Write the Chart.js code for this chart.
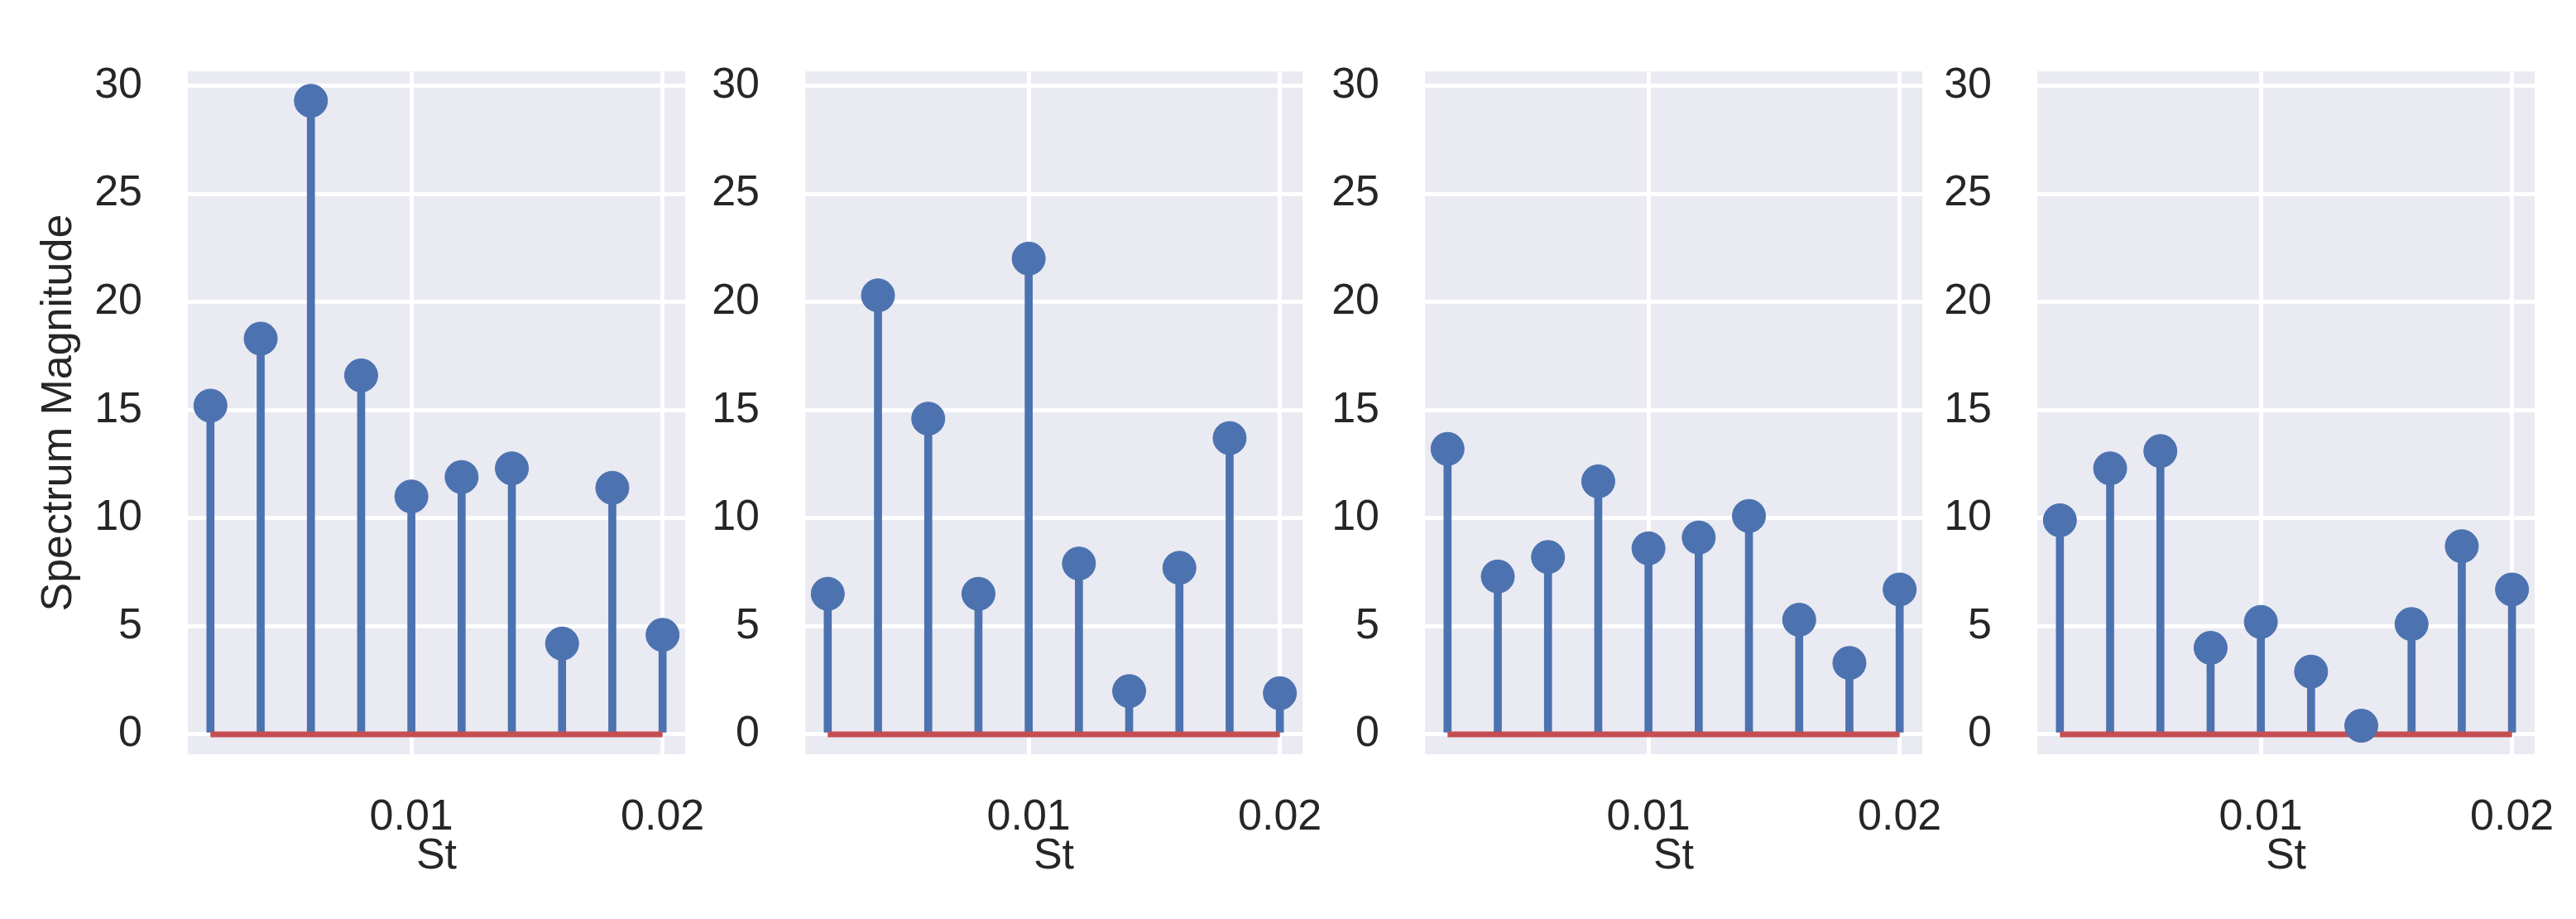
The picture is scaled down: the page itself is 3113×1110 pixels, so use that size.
<!DOCTYPE html>
<html>
<head>
<meta charset="utf-8">
<script src="https://cdn.jsdelivr.net/npm/chart.js@4/dist/chart.umd.min.js"></script>
<style>
  body { margin: 0; background: #fff; width: 3113px; height: 1110px; position: relative; overflow: hidden; }
  .panel { position: absolute; top: 0; height: 1110px; }
</style>
</head>
<body>
<div class="panel" id="p0"><canvas id="c0"></canvas></div>
<div class="panel" id="p1"><canvas id="c1"></canvas></div>
<div class="panel" id="p2"><canvas id="c2"></canvas></div>
<div class="panel" id="p3"><canvas id="c3"></canvas></div>
<script>
// Strouhal numbers (shared by all panels)
var st = [0.002, 0.004, 0.006, 0.008, 0.010, 0.012, 0.014, 0.016, 0.018, 0.020];
// spectrum magnitude per panel
var mag1 = [15.2, 18.3, 29.3, 16.6, 11.0, 11.9, 12.3, 4.2, 11.4, 4.6];
var mag2 = [6.5, 20.3, 14.6, 6.5, 22.0, 7.9, 2.0, 7.7, 13.7, 1.9];
var mag3 = [13.2, 7.3, 8.2, 11.7, 8.6, 9.1, 10.1, 5.3, 3.3, 6.7];
var mag4 = [9.9, 12.3, 13.1, 4.0, 5.2, 2.9, 0.4, 5.1, 8.7, 6.7];
var xTicks = [0.01, 0.02];
var yTicks = [0, 5, 10, 15, 20, 25, 30];

var blue = '#4c72b0';
var red = '#c44e52';
var font = { family: 'Liberation Sans, Arial, sans-serif', size: 52 };

var bgPlugin = {
  id: 'bg',
  beforeDraw: function(chart) {
    var a = chart.chartArea, ctx = chart.ctx;
    ctx.save();
    ctx.fillStyle = '#eaeaf2';
    ctx.fillRect(a.left, a.top, a.right - a.left, a.bottom - a.top);
    ctx.restore();
  }
};

function makeChart(idx, values, plotLeft, first) {
  var yWidth = first ? plotLeft : 130;
  var canvasLeft = plotLeft - yWidth;
  var div = document.getElementById('p' + idx);
  div.style.left = canvasLeft + 'px';
  div.style.width = (yWidth + 612 + 60) + 'px';

  var pts = st.map(function(x, i) { return { x: x, y: values[i] }; });

  new Chart(document.getElementById('c' + idx), {
    type: 'bar',
    data: {
      datasets: [
        {
          type: 'line',
          data: [{ x: st[0], y: 0 }, { x: st[st.length - 1], y: 0 }],
          borderColor: red, borderWidth: 7, pointRadius: 0, order: 1
        },
        {
          type: 'scatter',
          data: pts,
          backgroundColor: blue, borderColor: blue, pointRadius: 20, order: 0
        },
        {
          type: 'bar',
          data: pts,
          backgroundColor: blue, barThickness: 9, order: 2
        }
      ]
    },
    options: {
      responsive: true,
      maintainAspectRatio: false,
      animation: false,
      layout: { padding: { top: 17, right: 60, left: 0, bottom: 44 } },
      plugins: { legend: { display: false }, tooltip: { enabled: false } },
      scales: {
        x: {
          type: 'linear', min: 0.0011, max: 0.0209, offset: false,
          afterBuildTicks: function(s) { s.ticks = xTicks.map(function(v) { return { value: v }; }); },
          afterFit: function(s) { s.height = 155; },
          grid: { color: '#ffffff', lineWidth: 5, drawTicks: false, offset: false },
          border: { display: false },
          ticks: { font: font, color: '#262626', padding: 45, maxRotation: 0,
                   callback: function(v) { return String(Math.round(v * 100) / 100); } },
          title: { display: true, text: 'St', font: font, color: '#262626', padding: { top: 0, bottom: 0 } }
        },
        y: {
          min: -0.92, max: 30.66,
          afterBuildTicks: function(s) { s.ticks = yTicks.map(function(v) { return { value: v }; }); },
          afterFit: function(s) { s.width = yWidth; },
          grid: { color: '#ffffff', lineWidth: 5, drawTicks: false },
          border: { display: false },
          ticks: { font: font, color: '#262626', padding: 55 },
          title: { display: first, text: 'Spectrum Magnitude', font: font, color: '#262626', padding: { top: 40, bottom: 0 } }
        }
      }
    },
    plugins: [bgPlugin]
  });
}

makeChart(0, mag1, 227, true);
makeChart(1, mag2, 973, false);
makeChart(2, mag3, 1722, false);
makeChart(3, mag4, 2462, false);
</script>
</body>
</html>
